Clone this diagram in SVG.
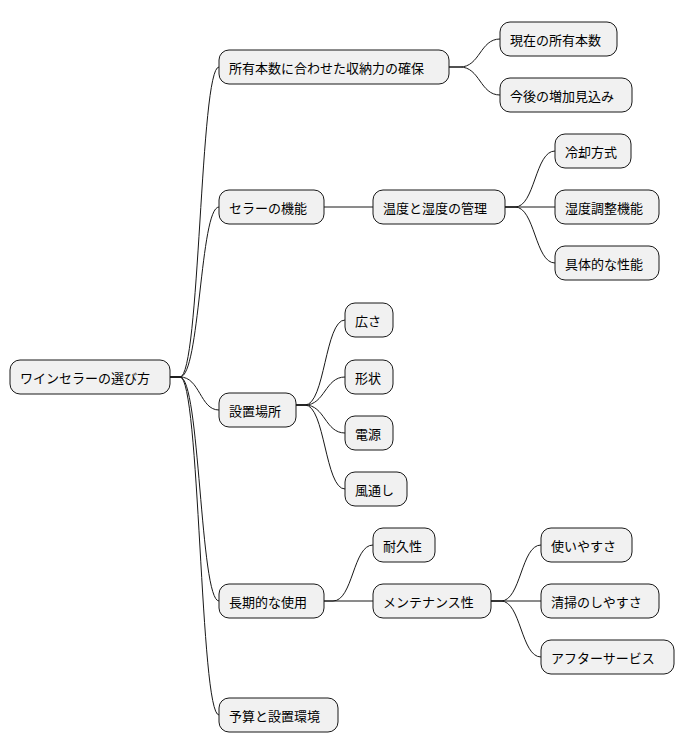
<svg xmlns="http://www.w3.org/2000/svg" width="684" height="752" viewBox="0 0 684 752">
<style>
.n rect{fill:#f1f1f1;stroke:#181818;stroke-width:1}
.n text{font-family:"Noto Sans CJK JP","Noto Sans",sans-serif;font-size:13px;fill:#000;dominant-baseline:central}
#c path{fill:none;stroke:#181818;stroke-width:1}
</style>
<rect width="684" height="752" fill="#fff"/>
<g id="c">
<path d="M170,377 H180 C200,377 200,67 219,67"/>
<path d="M170,377 H180 C200,377 200,207 219,207"/>
<path d="M170,377 H180 C200,377 200,410 219,410"/>
<path d="M170,377 H180 C200,377 200,601 219,601"/>
<path d="M170,377 H180 C200,377 200,715 219,715"/>
<path d="M449,67 H460 C480,67 480,39 500,39"/>
<path d="M449,67 H460 C480,67 480,95 500,95"/>
<path d="M324,207 H373"/>
<path d="M505,207 H515 C535,207 535,151 555,151"/>
<path d="M505,207 H555"/>
<path d="M505,207 H515 C535,207 535,263 555,263"/>
<path d="M296,405 H305 C325,405 325,320 345,320"/>
<path d="M296,405 H305 C325,405 325,377 345,377"/>
<path d="M296,405 H305 C325,405 325,433 345,433"/>
<path d="M296,405 H305 C325,405 325,489 345,489"/>
<path d="M324,601 H333 C353,601 353,545 373,545"/>
<path d="M324,601 H373"/>
<path d="M491,601 H501 C521,601 521,545 541,545"/>
<path d="M491,601 H541"/>
<path d="M491,601 H501 C521,601 521,657 541,657"/>
</g>
<g id="root" class="n"><rect x="10" y="360" width="160" height="34" rx="10"/><text x="20" y="377">ワインセラーの選び方</text></g>
<g id="n1" class="n"><rect x="219" y="50" width="230" height="34" rx="10"/><text x="229" y="67">所有本数に合わせた収納力の確保</text></g>
<g id="n1a" class="n"><rect x="500" y="22" width="117" height="34" rx="10"/><text x="510" y="39">現在の所有本数</text></g>
<g id="n1b" class="n"><rect x="500" y="78" width="132" height="34" rx="10"/><text x="510" y="95">今後の増加見込み</text></g>
<g id="n2" class="n"><rect x="219" y="190" width="105" height="34" rx="10"/><text x="229" y="207">セラーの機能</text></g>
<g id="n2a" class="n"><rect x="373" y="190" width="132" height="34" rx="10"/><text x="383" y="207">温度と湿度の管理</text></g>
<g id="n2a1" class="n"><rect x="555" y="134" width="76" height="34" rx="10"/><text x="565" y="151">冷却方式</text></g>
<g id="n2a2" class="n"><rect x="555" y="190" width="104" height="34" rx="10"/><text x="565" y="207">湿度調整機能</text></g>
<g id="n2a3" class="n"><rect x="555" y="246" width="104" height="34" rx="10"/><text x="565" y="263">具体的な性能</text></g>
<g id="n3" class="n"><rect x="219" y="393" width="77" height="34" rx="10"/><text x="229" y="410">設置場所</text></g>
<g id="n3a" class="n"><rect x="345" y="303" width="48" height="34" rx="10"/><text x="355" y="320">広さ</text></g>
<g id="n3b" class="n"><rect x="345" y="360" width="48" height="34" rx="10"/><text x="355" y="377">形状</text></g>
<g id="n3c" class="n"><rect x="345" y="416" width="48" height="34" rx="10"/><text x="355" y="433">電源</text></g>
<g id="n3d" class="n"><rect x="345" y="472" width="62" height="34" rx="10"/><text x="355" y="489">風通し</text></g>
<g id="n4" class="n"><rect x="219" y="584" width="105" height="34" rx="10"/><text x="229" y="601">長期的な使用</text></g>
<g id="n4a" class="n"><rect x="373" y="528" width="62" height="34" rx="10"/><text x="383" y="545">耐久性</text></g>
<g id="n4b" class="n"><rect x="373" y="584" width="118" height="34" rx="10"/><text x="383" y="601">メンテナンス性</text></g>
<g id="n4b1" class="n"><rect x="541" y="528" width="91" height="34" rx="10"/><text x="551" y="545">使いやすさ</text></g>
<g id="n4b2" class="n"><rect x="541" y="584" width="118" height="34" rx="10"/><text x="551" y="601">清掃のしやすさ</text></g>
<g id="n4b3" class="n"><rect x="541" y="640" width="133" height="34" rx="10"/><text x="551" y="657">アフターサービス</text></g>
<g id="n5" class="n"><rect x="219" y="698" width="119" height="34" rx="10"/><text x="229" y="715">予算と設置環境</text></g>
</svg>
